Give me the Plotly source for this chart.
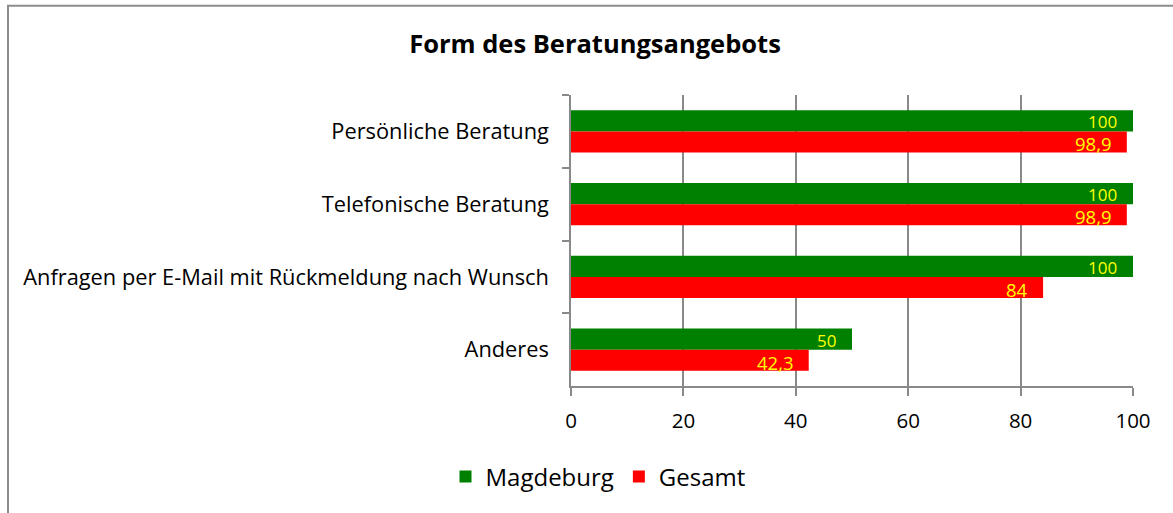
import plotly.graph_objects as go

categories = ["Persönliche Beratung", "Telefonische Beratung",
              "Anfragen per E-Mail mit Rückmeldung nach Wunsch", "Anderes"]
magdeburg = [100, 100, 100, 50]
gesamt = [98.9, 98.9, 84, 42.3]
series_names = ["Magdeburg", "Gesamt"]
x_ticks = [0, 20, 40, 60, 80, 100]


def fmt(v):
    return ("%g" % v).replace(".", ",")


W, H = 1173, 513
L, R, T, B = 571, 1133, 95, 386.5
pw, ph = R - L, B - T

font = "'Open Sans', sans-serif"
GRID = "#898989"
BARGAP = 0.42
half = (1 - BARGAP) / 4  # offset of each bar centre from the category centre

fig = go.Figure()
fig.add_trace(go.Bar(
    y=categories, x=magdeburg, name=series_names[0], orientation="h",
    marker=dict(color="#008000", line=dict(width=0)),
))
fig.add_trace(go.Bar(
    y=categories, x=gesamt, name=series_names[1], orientation="h",
    marker=dict(color="#FF0000", line=dict(width=0)),
))

# data labels (inside end, yellow)
for i, v in enumerate(magdeburg):
    fig.add_annotation(x=v, y=i - half, xref="x", yref="y", text=fmt(v),
                       showarrow=False, xanchor="right", yanchor="middle",
                       xshift=-14, yshift=-1,
                       font=dict(color="#FFFF00", size=17, family=font))
for i, v in enumerate(gesamt):
    fig.add_annotation(x=v, y=i + half, xref="x", yref="y", text=fmt(v),
                       showarrow=False, xanchor="right", yanchor="middle",
                       xshift=-13, yshift=-2,
                       font=dict(color="#FFFF00", size=18.5, family=font))

fig.update_layout(
    width=W, height=H,
    margin=dict(l=L, r=W - R, t=T, b=H - B),
    paper_bgcolor="white", plot_bgcolor="white",
    barmode="group", bargap=BARGAP, bargroupgap=0,
    font=dict(family=font, color="#000000", size=20),
    title=dict(text="<b>Form des Beratungsangebots</b>", x=595 / W, xanchor="center",
               y=1 - 44 / H, yanchor="middle", font=dict(size=25.5, family=font)),
    showlegend=True,
    legend=dict(orientation="h", x=598 / W, xanchor="center", xref="container",
                y=1 - 477 / H, yref="container", yanchor="middle",
                traceorder="normal", font=dict(size=24, family=font),
                itemwidth=30, itemsizing="constant"),
    xaxis=dict(range=[0, 100], tickvals=x_ticks, ticktext=[str(t) for t in x_ticks],
               showgrid=True, gridcolor=GRID, gridwidth=1.5,
               showline=True, linecolor=GRID, linewidth=1.5,
               ticks="outside", ticklen=8, tickcolor=GRID, tickwidth=1.5,
               ticklabelstandoff=8, zeroline=False,
               tickfont=dict(size=20.5, family=font)),
    yaxis=dict(type="category", autorange="reversed", tickson="boundaries",
               ticks="outside", ticklen=7, tickcolor=GRID, tickwidth=1.5,
               showline=True, linecolor=GRID, linewidth=1.5,
               showgrid=False, ticklabelstandoff=16,
               tickfont=dict(size=21.8, family=font)),
)

# outer chart border
fig.add_shape(type="rect", xref="paper", yref="paper",
              x0=(8 - L) / pw, x1=(W + 20 - L) / pw,
              y0=(B - (H + 20)) / ph, y1=(B - 5.5) / ph,
              line=dict(color="#8C8C8C", width=2), fillcolor="rgba(0,0,0,0)",
              layer="below")

fig.write_html("out.html", config={"displayModeBar": False},
               post_script="document.body.style.margin='0px';")
